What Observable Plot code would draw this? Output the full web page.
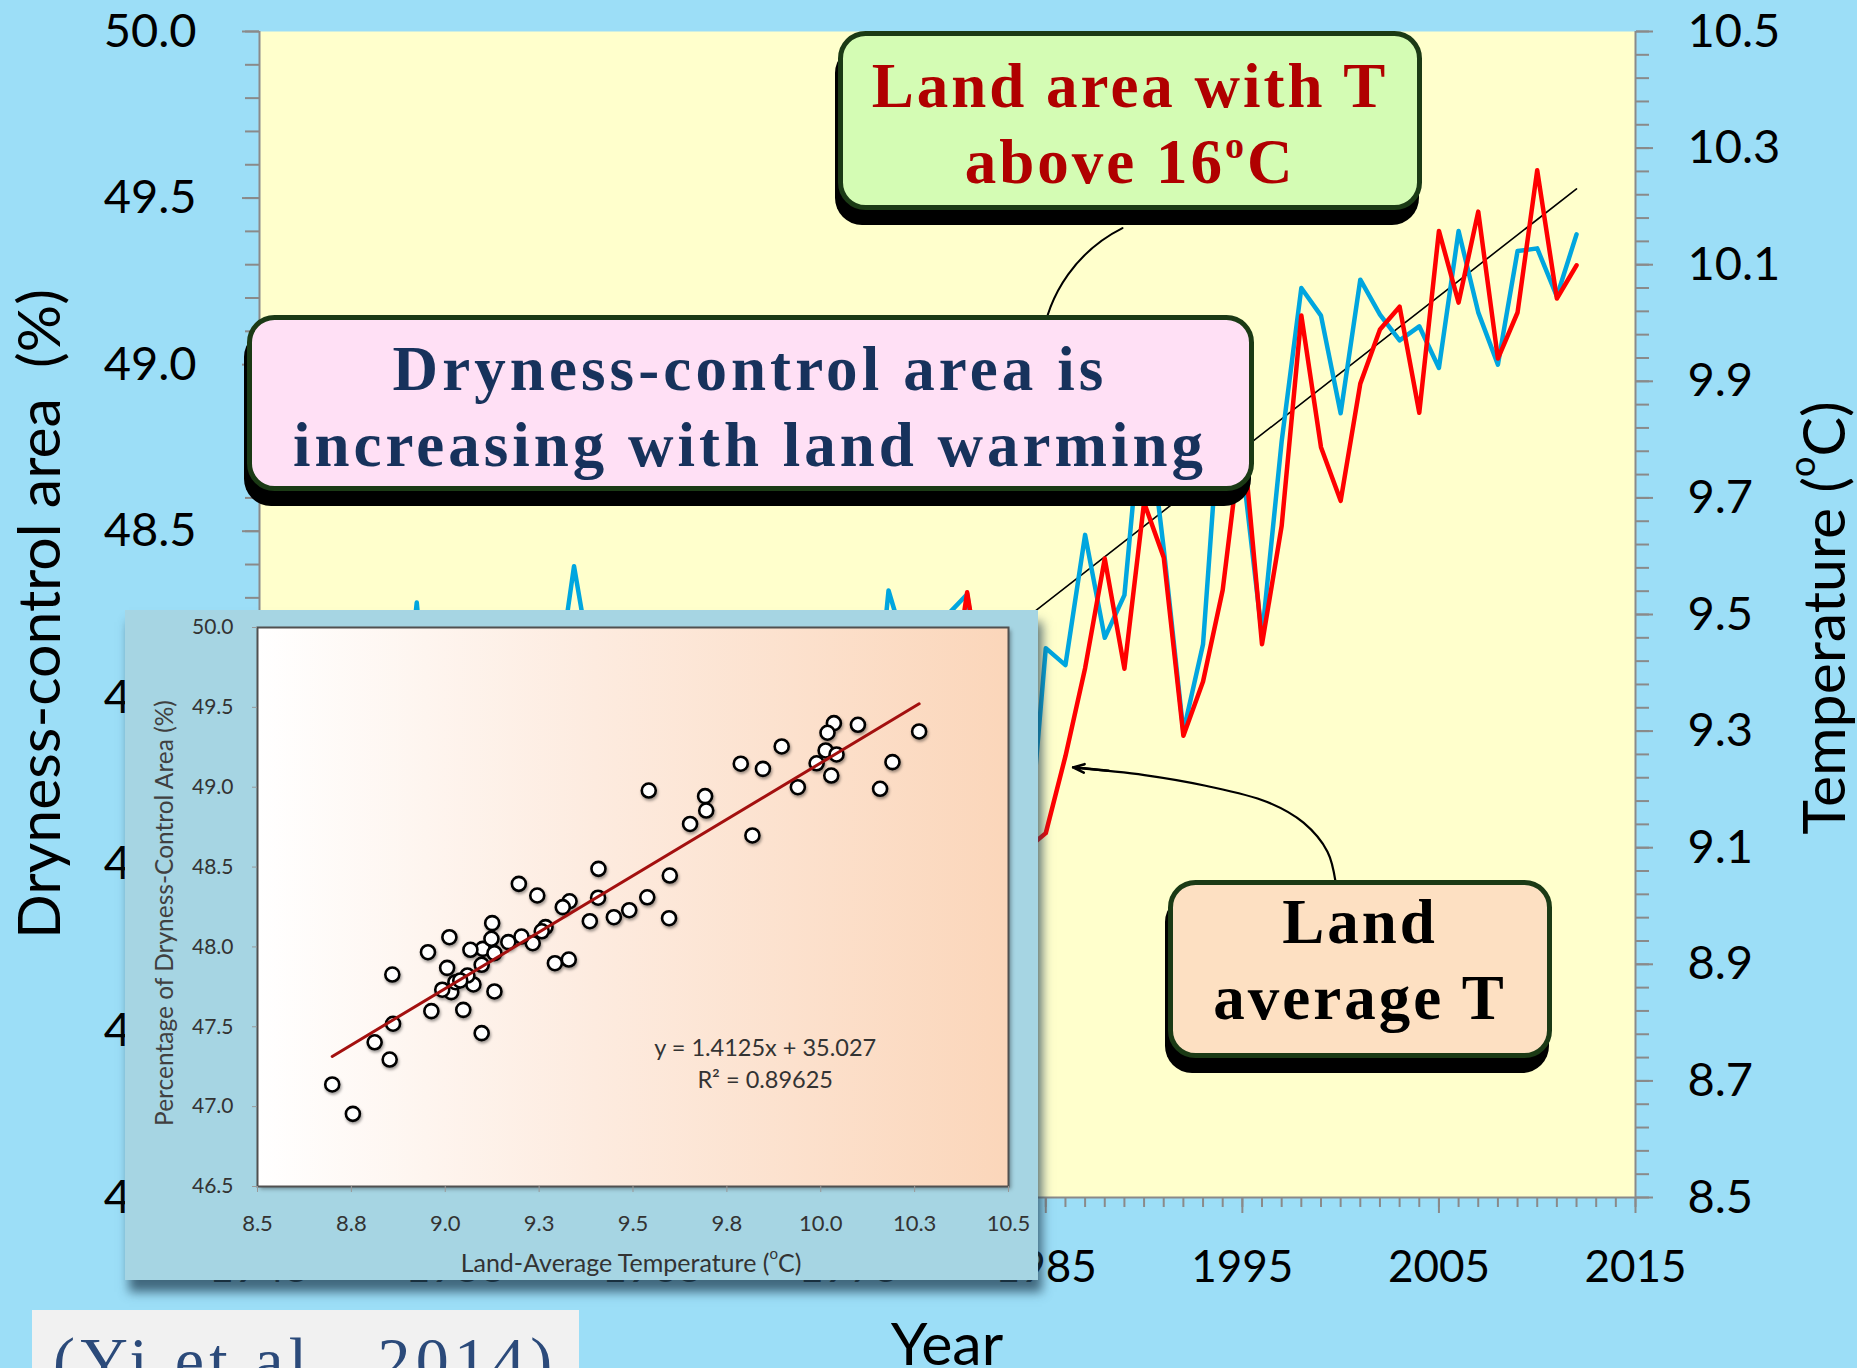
<!DOCTYPE html>
<html>
<head>
<meta charset="utf-8">
<script src="https://cdn.jsdelivr.net/npm/d3@7"></script>
<script src="https://cdn.jsdelivr.net/npm/@observablehq/plot@0.6"></script>
<style>
  html, body { margin: 0; padding: 0; background: #9cdef7; }
  #page { position: relative; width: 1857px; height: 1368px; overflow: hidden; background: #9cdef7; font-family: Lato, sans-serif; }
  #chart { position: absolute; left: 0; top: 0; }
  #inset { position: absolute; left: 125px; top: 610px; width: 913px; height: 670px; background: #a6d5e3;
           box-shadow: 4px 12px 10px rgba(35, 65, 85, 0.75); }
  #insetField { position: absolute; left: 132px; top: 17px; width: 751px; height: 559px;
                background: linear-gradient(to right, #ffffff 0%, #fdebdf 45%, #fbd6ba 100%);
                box-shadow: 3px 3px 4px rgba(0, 0, 0, 0.35); }
  #inset svg { position: absolute; left: 0; top: 0; }
  #notes { position: absolute; left: 0; top: 0; }
</style>
</head>
<body>
<div id="page">
  <div id="chart"></div>
  <div id="inset"><div id="insetField"></div></div>
  <svg id="notes" width="1857" height="1368"></svg>
</div>
<script>
// ---- Annual series, 1950-2012 ----
const years = [
  1950, 1951, 1952, 1953, 1954, 1955, 1956, 1957, 1958, 1959,
  1960, 1961, 1962, 1963, 1964, 1965, 1966, 1967, 1968, 1969,
  1970, 1971, 1972, 1973, 1974, 1975, 1976, 1977, 1978, 1979,
  1980, 1981, 1982, 1983, 1984, 1985, 1986, 1987, 1988, 1989,
  1990, 1991, 1992, 1993, 1994, 1995, 1996, 1997, 1998, 1999,
  2000, 2001, 2002, 2003, 2004, 2005, 2006, 2007, 2008, 2009,
  2010, 2011, 2012
];

// Dryness-control area (% of land)
const drynessArea = [
  47.869, 47.765, 47.717, 48.286, 47.598, 47.732, 47.295, 48.030, 47.988, 47.821,
  47.982, 48.395, 48.051, 47.888, 46.955, 47.139, 47.606, 47.779, 47.519, 47.967,
  48.061, 47.403, 47.827, 48.023, 47.790, 47.961, 47.721, 48.322, 48.124, 48.065,
  48.249, 48.311, 47.921, 48.230, 47.460, 48.149, 48.098, 48.489, 48.180, 48.308,
  48.944, 48.447, 47.898, 48.161, 48.979, 48.698, 48.186, 48.770, 49.230, 49.147,
  48.854, 49.255, 49.150, 49.073, 49.115, 48.990, 49.401, 49.157, 49.000, 49.341,
  49.349, 49.205, 49.391
];

// Land-average temperature (°C)
const landTemp = [
  9.005, 9.075, 9.016, 9.331, 8.963, 8.992, 8.852, 9.168, 9.100, 9.059,
  9.067, 9.196, 9.123, 9.097, 8.754, 8.699, 9.048, 9.027, 8.861, 8.954,
  9.011, 8.812, 8.859, 9.233, 9.040, 9.131, 9.131, 9.245, 9.267, 9.203,
  9.313, 9.538, 9.329, 9.490, 9.097, 9.125, 9.257, 9.408, 9.596, 9.407,
  9.692, 9.598, 9.292, 9.385, 9.542, 9.818, 9.449, 9.652, 10.013, 9.787,
  9.695, 9.896, 9.989, 10.028, 9.846, 10.158, 10.035, 10.191, 9.939, 10.018,
  10.262, 10.042, 10.099
];

// Linear warming trend of land temperature
const trendYears = [1950, 2012];
const trendTemp = [8.60, 10.23];

// Least-squares fit of dryness-control area on temperature
const fitSlope = 1.4125;
const fitIntercept = 35.027;
const fitR2 = 0.89625;

// ---- Axes ----
const yearTicks = [1945, 1955, 1965, 1975, 1985, 1995, 2005, 2015];
const areaTicks = [46.5, 47.0, 47.5, 48.0, 48.5, 49.0, 49.5, 50.0];
const areaTickLabels = ["46.5", "47.0", "47.5", "48.0", "48.5", "49.0", "49.5", "50.0"];
const tempTicks = [8.5, 8.7, 8.9, 9.1, 9.3, 9.5, 9.7, 9.9, 10.1, 10.3, 10.5];
const tempTickLabels = ["8.5", "8.7", "8.9", "9.1", "9.3", "9.5", "9.7", "9.9", "10.1", "10.3", "10.5"];
const insetTempTicks = [8.5, 8.75, 9.0, 9.25, 9.5, 9.75, 10.0, 10.25, 10.5];
const insetTempLabels = ["8.5", "8.8", "9.0", "9.3", "9.5", "9.8", "10.0", "10.3", "10.5"];

const areaDomain = [46.5, 50];
const tempDomain = [8.5, 10.5];
// temperature values are drawn on the area scale through this linear map
const tempToArea = t => areaDomain[0] + (t - tempDomain[0]) * (areaDomain[1] - areaDomain[0]) / (tempDomain[1] - tempDomain[0]);

const yearMinorTicks = d3.range(1945, 2016);
const areaMinorTicks = d3.range(0, 36).map(i => 46.5 + i * 0.1);
const tempMinorTicks = d3.range(0, 51).map(i => tempToArea(8.5 + i * 0.04));
const tempTicksOnArea = tempTicks.map(tempToArea);

// Callout leaders (year, area-scale value)
const landTempLeader = [
  {x: 1999.74, y: 47.448}, {x: 1999.33, y: 47.538}, {x: 1998.11, y: 47.625},
  {x: 1996.23, y: 47.688}, {x: 1993.13, y: 47.736}, {x: 1990.02, y: 47.768}, {x: 1986.39, y: 47.791}
];
const landTempHead = [{x1: 1988.2, y1: 47.781, x2: 1986.39, y2: 47.791}];
const warmAreaLeader = [{x1: 1988.9, y1: 49.41, x2: 1984.8, y2: 49.07}];

const axisGray = "#8a8a8a";

const main = Plot.plot({
  width: 1857,
  height: 1368,
  marginLeft: 259,
  marginRight: 222,
  marginTop: 31,
  marginBottom: 171,
  style: {background: "transparent", fontFamily: "Lato, sans-serif", overflow: "visible"},
  x: {domain: [1945, 2015]},
  y: {domain: areaDomain},
  marks: [
    Plot.frame({fill: "#ffffcc", stroke: "none"}),
    // bottom axis
    Plot.axisX(yearMinorTicks, {tickSize: 10, fill: "none", stroke: axisGray, strokeWidth: 2, label: null}),
    Plot.axisX(yearTicks, {tickSize: 16, tickPadding: 37, tickFormat: d => String(d), fontSize: 44,
      fill: "#000", stroke: axisGray, strokeWidth: 2, label: null}),
    // left axis: dryness-control area
    Plot.axisY(areaMinorTicks, {anchor: "left", tickSize: 14, fill: "none", stroke: axisGray, strokeWidth: 2, label: null}),
    Plot.axisY(areaTicks, {anchor: "left", tickSize: 17, tickPadding: 46, fontSize: 47, fill: "#000",
      stroke: axisGray, strokeWidth: 2, label: null,
      tickFormat: d => areaTickLabels[areaTicks.indexOf(d)]}),
    // right axis: land temperature
    Plot.axisY(tempMinorTicks, {anchor: "right", tickSize: 13, fill: "none", stroke: axisGray, strokeWidth: 2, label: null}),
    Plot.axisY(tempTicksOnArea, {anchor: "right", tickSize: 17, tickPadding: 35, fontSize: 47, fill: "#000",
      stroke: axisGray, strokeWidth: 2, label: null,
      tickFormat: d => tempTickLabels[tempTicksOnArea.indexOf(d)]}),
    Plot.ruleX([1945, 2015], {stroke: axisGray, strokeWidth: 2}),
    Plot.ruleY([46.5], {stroke: axisGray, strokeWidth: 2}),
    // series
    Plot.line(trendYears, {x: d => d, y: (d, i) => tempToArea(trendTemp[i]), stroke: "#000", strokeWidth: 1.6}),
    Plot.lineY(drynessArea, {x: years, stroke: "#00a6df", strokeWidth: 4.5}),
    Plot.lineY(landTemp.map(tempToArea), {x: years, stroke: "#ff0000", strokeWidth: 4.5}),
    // callout leaders
    Plot.line(landTempLeader, {x: "x", y: "y", curve: "catmull-rom", stroke: "#000", strokeWidth: 2.2}),
    Plot.arrow(landTempHead, {x1: "x1", y1: "y1", x2: "x2", y2: "y2",
      headLength: 26, headAngle: 42, stroke: "#000", strokeWidth: 2.6}),
    Plot.arrow(warmAreaLeader, {x1: "x1", y1: "y1", x2: "x2", y2: "y2", bend: -28,
      headLength: 0, stroke: "#000", strokeWidth: 2})
  ]
});
document.getElementById("chart").appendChild(main);

// ---- Inset: scatter of dryness-control area against temperature ----
const fitX = d3.extent(landTemp);
const inset = Plot.plot({
  width: 913,
  height: 670,
  marginLeft: 132,
  marginRight: 30,
  marginTop: 17,
  marginBottom: 94,
  style: {background: "transparent", fontFamily: "Lato, sans-serif", overflow: "visible"},
  x: {domain: tempDomain},
  y: {domain: areaDomain},
  marks: [
    Plot.frame({stroke: "#505050", strokeWidth: 2}),
    Plot.axisX(insetTempTicks, {tickSize: 6, tickPadding: 23, fontSize: 22, fill: "#333", stroke: "#999",
      label: null, tickFormat: d => insetTempLabels[insetTempTicks.indexOf(d)]}),
    Plot.axisY(areaTicks, {tickSize: 5, tickPadding: 19, fontSize: 21, fill: "#333", stroke: "#999",
      label: null, tickFormat: d => areaTickLabels[areaTicks.indexOf(d)]}),
    Plot.dot(landTemp, {x: d => d, y: (d, i) => drynessArea[i], r: 7, fill: "#ffffff", stroke: "#000", strokeWidth: 2.6}),
    Plot.line(fitX, {x: d => d, y: d => fitSlope * d + fitIntercept, stroke: "#a3100f", strokeWidth: 3}),
    Plot.text([`y = ${fitSlope}x + ${fitIntercept.toFixed(3)}\nR² = ${fitR2}`], {x: 9.852, y: 47.28,
      fontSize: 23.5, lineHeight: 1.36, fill: "#333", textAnchor: "middle"})
  ]
});
d3.select(inset).selectAll('g[aria-label="dot"]').style("filter", "drop-shadow(1.5px 2px 1.5px rgba(0,0,0,0.4))");
const insetSel = d3.select(inset);
insetSel.append("text")
  .attr("transform", "translate(38,303) rotate(-90)")
  .attr("text-anchor", "middle").attr("dominant-baseline", "central")
  .attr("font-size", 24.5).attr("fill", "#404040")
  .text("Percentage of Dryness-Control Area (%)");
const xt = insetSel.append("text")
  .attr("x", 506).attr("y", 652)
  .attr("text-anchor", "middle").attr("dominant-baseline", "central")
  .attr("font-size", 25).attr("fill", "#333");
xt.append("tspan").text("Land-Average Temperature (");
xt.append("tspan").attr("font-size", 15).attr("dy", -9).text("o");
xt.append("tspan").attr("dy", 9).text("C)");
document.getElementById("inset").appendChild(inset);

// ---- Titles, annotation boxes and source ----
const notes = d3.select("#notes");

function titleText(x, y, rotate) {
  return notes.append("text")
    .attr("transform", `translate(${x},${y})` + (rotate ? " rotate(-90)" : ""))
    .attr("text-anchor", "middle")
    .attr("font-family", "Lato, sans-serif").attr("font-size", 59).attr("fill", "#000")
    .style("white-space", "pre");
}
titleText(37, 614, true).attr("dominant-baseline", "central").text("Dryness-control area  (%)");
const tt = titleText(1822, 618, true).attr("dominant-baseline", "central");
tt.append("tspan").text("Temperature (");
tt.append("tspan").attr("font-size", 36).attr("dy", -21).text("o");
tt.append("tspan").attr("dy", 21).text("C)");
titleText(947, 1365, false).text("Year");

function noteBox(x, y, w, h, fill) {
  notes.append("rect").attr("x", x - 3).attr("y", y + 15).attr("width", w).attr("height", h)
    .attr("rx", 27).attr("fill", "#000");
  notes.append("rect").attr("x", x + 2.5).attr("y", y + 2.5).attr("width", w - 5).attr("height", h - 5)
    .attr("rx", 25).attr("fill", fill).attr("stroke", "#1b3a15").attr("stroke-width", 5);
}
function noteLine(cx, baseline, color, spacing) {
  return notes.append("text").attr("x", cx).attr("y", baseline)
    .attr("text-anchor", "middle")
    .attr("font-family", "'Liberation Serif', serif").attr("font-weight", "bold")
    .attr("font-size", 63).attr("letter-spacing", spacing).attr("fill", color);
}

noteBox(838, 31, 584, 179, "#d4fcb4");
noteLine(1130, 107, "#b00000", 3).text("Land area with T");
const l2 = noteLine(1130, 183, "#b00000", 3);
l2.append("tspan").text("above 16");
l2.append("tspan").attr("font-size", 38).attr("dy", -25).text("o");
l2.append("tspan").attr("dy", 25).text("C");

noteBox(247, 315, 1007, 176, "#ffe0f5");
noteLine(750, 390, "#17325c", 4.1).text("Dryness-control area is");
noteLine(750, 466, "#17325c", 4).text("increasing with land warming");

noteBox(1168, 880, 384, 178, "#fde0c2");
noteLine(1360, 943, "#000", 3).text("Land");
noteLine(1360, 1019, "#000", 3).text("average T");

notes.append("rect").attr("x", 32).attr("y", 1310).attr("width", 547).attr("height", 80).attr("fill", "#f1f1f1");
notes.append("text").attr("x", 53).attr("y", 1383)
  .attr("font-family", "'Liberation Serif', serif").attr("font-size", 66).attr("letter-spacing", 5.2)
  .attr("fill", "#2b4a7a").text("(Yi et al., 2014)");
</script>
</body>
</html>
